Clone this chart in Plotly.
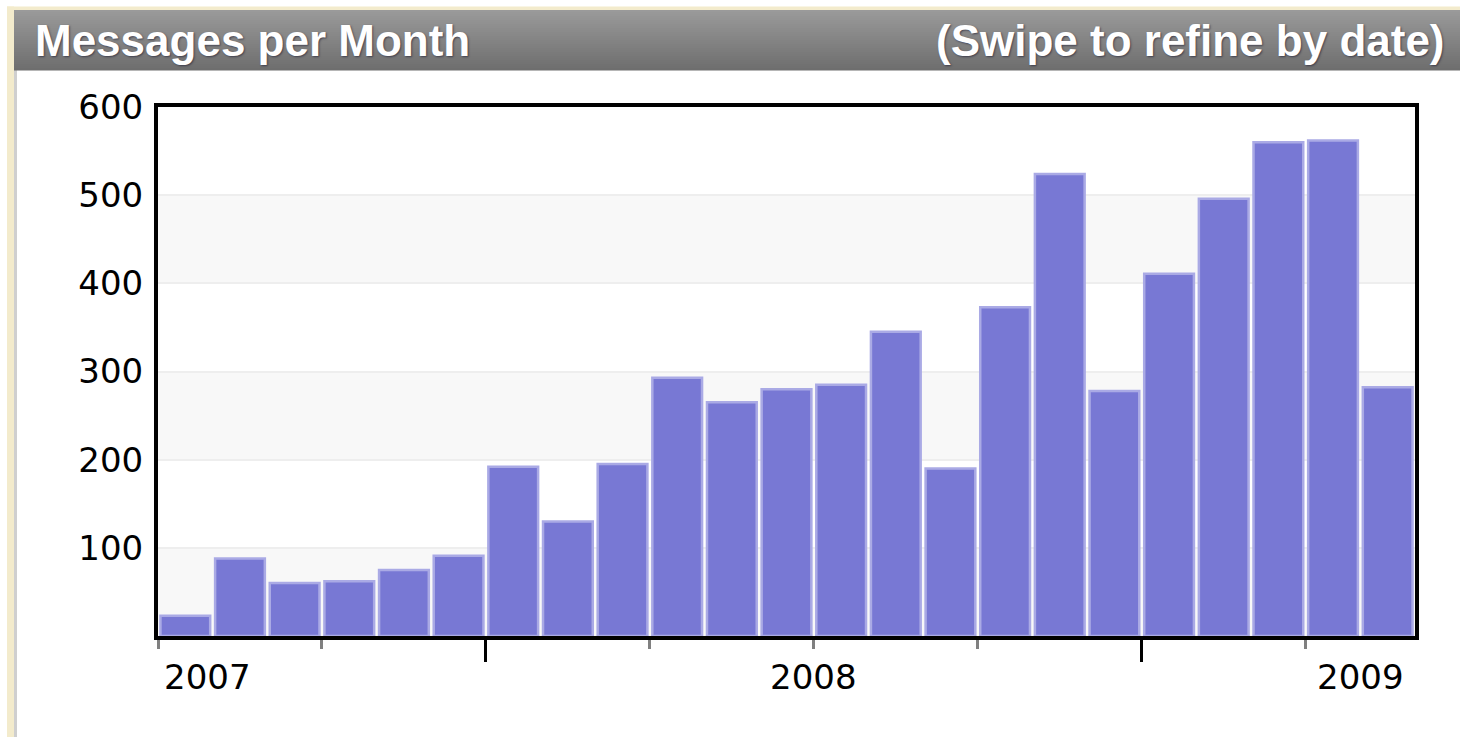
import plotly.graph_objects as go

# ---- data ----
months = ["2007-01", "2007-02", "2007-03", "2007-04", "2007-05", "2007-06",
          "2007-07", "2007-08", "2007-09", "2007-10", "2007-11", "2007-12",
          "2008-01", "2008-02", "2008-03", "2008-04", "2008-05", "2008-06",
          "2008-07", "2008-08", "2008-09", "2008-10", "2008-11"]
messages = [23, 88, 60, 62, 75, 91, 192, 130, 195, 293, 265, 280,
            285, 345, 190, 373, 524, 278, 411, 496, 560, 562, 282]
y_ticks = [100, 200, 300, 400, 500, 600]
year_labels = ["2007", "2008", "2009"]
year_label_pos = [0.4, 11.5, 21.5]

# ---- layout geometry (pixels) ----
W_PX, H_PX = 1460, 737
L, R, T, B = 158, 1415, 107, 636
PW, PH = R - L, B - T

def fx(p):
    return (p - L) / PW

def fy(p):
    return (B - p) / PH

x_idx = list(range(len(months)))

fig = go.Figure()
fig.add_trace(go.Bar(
    x=x_idx, y=messages, customdata=months,
    hovertemplate="%{customdata}: %{y}<extra></extra>",
    marker=dict(color="#7878d4", line=dict(color="#aaaae5", width=2.5)),
    showlegend=False,
))

shapes = []
# alternating horizontal bands
bands = [0] + y_ticks
for i in range(0, len(bands) - 1, 2):
    shapes.append(dict(type="rect", xref="paper", yref="y", x0=0, x1=1,
                       y0=bands[i], y1=bands[i + 1], fillcolor="#f8f8f8",
                       line_width=0, layer="below"))

# page decoration: beige frame and grey header
shapes.append(dict(type="rect", xref="paper", yref="paper",
                   x0=fx(7), x1=fx(W_PX + 5), y0=fy(10), y1=fy(6.5),
                   fillcolor="#f3ebcc", line_width=0, layer="below"))
shapes.append(dict(type="rect", xref="paper", yref="paper",
                   x0=fx(7), x1=fx(14), y0=fy(H_PX + 5), y1=fy(6.5),
                   fillcolor="#f3ebcc", line_width=0, layer="below"))
shapes.append(dict(type="rect", xref="paper", yref="paper",
                   x0=fx(14), x1=fx(17), y0=fy(H_PX + 5), y1=fy(70),
                   fillcolor="#cfcfcf", line_width=0, layer="below"))
n_strips = 30
top_c, bot_c = (154, 154, 154), (110, 110, 110)
hy0, hy1 = 10, 70
for k in range(n_strips):
    t = k / (n_strips - 1)
    c = tuple(int(round(top_c[j] + (bot_c[j] - top_c[j]) * t)) for j in range(3))
    ya = hy0 + (hy1 - hy0) * k / n_strips
    yb = hy0 + (hy1 - hy0) * (k + 1) / n_strips
    shapes.append(dict(type="rect", xref="paper", yref="paper",
                       x0=fx(14), x1=fx(W_PX + 5), y0=fy(yb + 0.5), y1=fy(ya),
                       fillcolor="rgb(%d,%d,%d)" % c, line_width=0, layer="below"))

annotations = []
hdr_font = dict(family="Liberation Sans, Arial, sans-serif", size=44,
                color="white", weight="bold", shadow="1px 1px 2px rgba(40,40,60,0.7)")
annotations.append(dict(text="Messages per Month", xref="paper", yref="paper",
                        x=fx(33), y=fy(41), xanchor="left", yanchor="middle",
                        showarrow=False, font=hdr_font))
annotations.append(dict(text="(Swipe to refine by date)", xref="paper", yref="paper",
                        x=fx(1447), y=fy(41), xanchor="right", yanchor="middle",
                        showarrow=False, font=hdr_font))
tick_font = dict(family="DejaVu Sans, Verdana, sans-serif", size=34, color="black")
for lab, pos in zip(year_labels, year_label_pos):
    annotations.append(dict(text=lab, x=pos, xref="x", yref="paper", y=fy(677),
                            xanchor="center", yanchor="middle", showarrow=False,
                            font=tick_font))

fig.update_layout(
    width=W_PX, height=H_PX,
    margin=dict(l=L, r=W_PX - R, t=T, b=H_PX - B, autoexpand=False),
    paper_bgcolor="white", plot_bgcolor="rgba(0,0,0,0)",
    bargap=0.09,
    shapes=shapes, annotations=annotations,
    xaxis=dict(range=[-0.5, len(months) - 0.5], showgrid=False, zeroline=False,
               showline=True, linecolor="black", linewidth=4, mirror=True,
               tickmode="array", tickvals=[5.5, 17.5], ticks="outside",
               ticklen=22, tickwidth=3, tickcolor="black", showticklabels=False,
               minor=dict(tickvals=[i * 3 - 0.5 for i in range(8)], ticks="outside",
                          ticklen=9, tickwidth=3, tickcolor="#808080")),
    yaxis=dict(range=[0, 600], tickmode="array", tickvals=y_ticks,
               ticks="", showgrid=True, gridcolor="#eeeeee", gridwidth=2,
               zeroline=False, showline=True, linecolor="black", linewidth=4,
               mirror=True, tickfont=tick_font, ticklabelstandoff=4),
)

fig.write_html("out.html", config={"displayModeBar": False},
               post_script="document.body.style.margin='0';document.body.style.overflow='hidden';")
